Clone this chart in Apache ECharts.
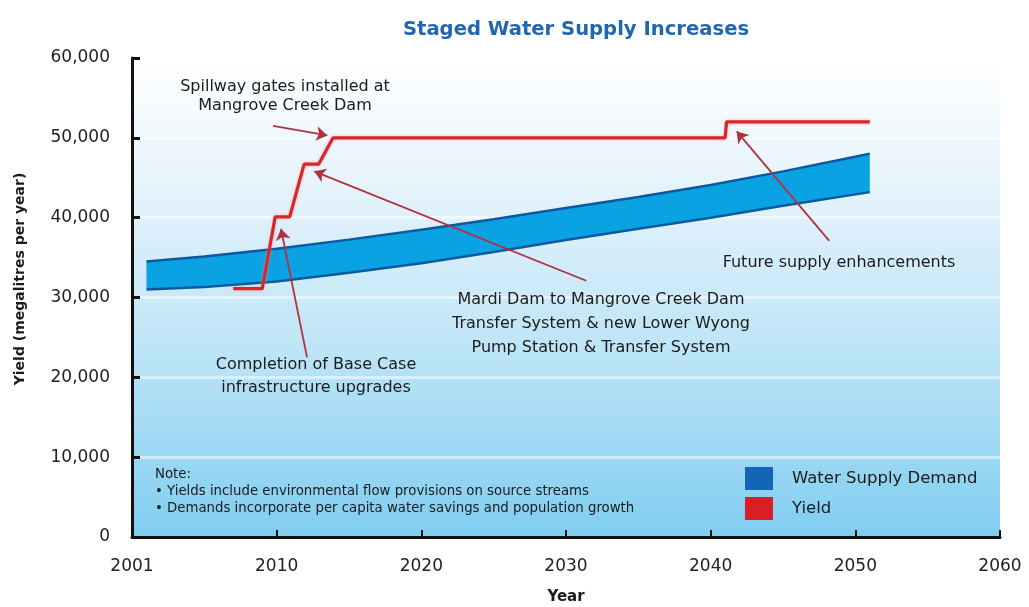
<!DOCTYPE html>
<html>
<head>
<meta charset="utf-8">
<script src="https://cdn.jsdelivr.net/npm/echarts@6/dist/echarts.min.js"></script>
<style>html,body{margin:0;padding:0;background:#fff;}#c{width:1029px;height:607px;}</style>
</head>
<body>
<div id="c"></div>
<script>
// ---- data ----
const xTickLabels = ['2001', '2010', '2020', '2030', '2040', '2050', '2060'];
const demandYears = [2001, 2005, 2010, 2015, 2020, 2025, 2030, 2035, 2040, 2045, 2051];
const demandLow   = [31000, 31300, 32000, 33100, 34300, 35700, 37200, 38600, 40000, 41500, 43200];
const demandHigh  = [34500, 35150, 36100, 37250, 38500, 39800, 41200, 42600, 44100, 45800, 48000];
const yieldYears  = [2007, 2009, 2009.9, 2010.9, 2011.9, 2012.9, 2013.9, 2041, 2041.1, 2051];
const yieldValues = [31100, 31100, 40100, 40100, 46700, 46700, 50000, 50000, 52000, 52000];
// arrows: [fromYear, fromValue, toYear, toValue]
const arrowSpillway   = [2009.75, 51500, 2013.5, 50300];
const arrowMardi      = [2031.4, 32100, 2012.6, 45800];
const arrowCompletion = [2012.1, 22500, 2010.3, 38600];
const arrowFuture     = [2048.2, 37100, 2041.8, 50800];
const noteLines = ['Note:', '\u2022 Yields include environmental flow provisions on source streams', '\u2022 Demands incorporate per capita water savings and population growth'];

const chart = echarts.init(document.getElementById('c'), null, {renderer: 'canvas'});
const FONT = '"DejaVu Sans", "Liberation Sans", sans-serif';
const lowData = demandYears.map((y, i) => [y, demandLow[i]]);
const highData = demandYears.map((y, i) => [y, demandHigh[i]]);
const bandData = demandYears.map((y, i) => [y, demandLow[i], demandHigh[i]]);
const yieldData = yieldYears.map((y, i) => [y, yieldValues[i]]);
const arrows = [arrowSpillway, arrowMardi, arrowCompletion, arrowFuture].map(a => [
  {coord: [a[0], a[1]]}, {coord: [a[2], a[3]]}
]);

function txt(x, y, s, size) {
  return {
    type: 'text', x: x, y: y, z: 20,
    style: {text: s, fill: '#1b1b1b', font: size + 'px ' + FONT, textAlign: 'center', textVerticalAlign: 'middle'}
  };
}
function noteTxt(y, s) {
  return {type: 'text', x: 155, y: y, z: 20,
    style: {text: s, fill: '#1b1b1b', font: '13.3px ' + FONT, textAlign: 'left', textVerticalAlign: 'middle'}};
}

const option = {
  animation: false,
  title: {
    text: 'Staged Water Supply Increases',
    left: 571, top: 15, textAlign: 'center',
    textStyle: {color: '#2166b0', fontFamily: FONT, fontWeight: 'bold', fontSize: 19.6}
  },
  grid: {
    left: 132, right: 29, top: 58, bottom: 70, show: true, borderWidth: 0,
    outerBoundsMode: 'none', containLabel: false,
    backgroundColor: new echarts.graphic.LinearGradient(0, 0, 0, 1, [
      {offset: 0, color: '#ffffff'},
      {offset: 0.3, color: '#e2f2fb'},
      {offset: 0.62, color: '#bce4f7'},
      {offset: 1, color: '#80cdf0'}
    ])
  },
  legend: {
    orient: 'vertical', left: 740, top: 462, itemWidth: 28, itemHeight: 23, itemGap: 7,
    icon: 'rect', selectedMode: false,
    textStyle: {fontFamily: FONT, fontSize: 16.5, color: '#1b1b1b', padding: [0, 0, 0, 14]},
    data: [
      {name: 'Water Supply Demand', itemStyle: {color: '#1465b8'}},
      {name: 'Yield', itemStyle: {color: '#d91e25'}}
    ]
  },
  xAxis: {
    type: 'value', min: 2000, max: 2060, interval: 10,
    name: 'Year', nameLocation: 'middle', nameGap: 53,
    nameTextStyle: {fontFamily: FONT, fontSize: 15, fontWeight: 'bold', color: '#1b1b1b'},
    axisLine: {show: true, lineStyle: {color: '#111', width: 3}},
    axisTick: {show: true, inside: true, length: 7, lineStyle: {color: '#111', width: 2}},
    axisLabel: {
      margin: 21, fontFamily: FONT, fontSize: 17, color: '#222',
      formatter: v => xTickLabels[Math.round((v - 2000) / 10)]
    },
    splitLine: {show: false}
  },
  yAxis: {
    type: 'value', min: 0, max: 60000, interval: 10000,
    axisLine: {show: true, lineStyle: {color: '#111', width: 3}},
    axisTick: {show: true, inside: true, length: 8, lineStyle: {color: '#111', width: 3}},
    axisLabel: {
      margin: 22, fontFamily: FONT, fontSize: 17, color: '#222',
      formatter: v => v.toLocaleString('en-US')
    },
    splitLine: {show: true, lineStyle: {color: 'rgba(255,255,255,0.5)', width: 3}}
  },
  series: [
    {
      name: 'Water Supply Demand', type: 'custom', z: 3, silent: true,
      itemStyle: {color: '#1465b8'},
      data: bandData,
      encode: {x: 0, y: [1, 2]},
      renderItem: function (params, api) {
        if (params.dataIndex !== 0) return null;
        const top = bandData.map(d => api.coord([d[0], d[2]]));
        const bot = bandData.map(d => api.coord([d[0], d[1]])).reverse();
        return {
          type: 'polygon',
          shape: {points: top.concat(bot)},
          style: {fill: '#0ba2e4', stroke: 'none'}
        };
      }
    },
    {
      name: 'demandLow', type: 'line', data: lowData, symbol: 'none', z: 4, silent: true,
      lineStyle: {color: '#0b5a9e', width: 2.5}
    },
    {
      name: 'demandHigh', type: 'line', data: highData, symbol: 'none', z: 4, silent: true,
      lineStyle: {color: '#0b5a9e', width: 2.5}
    },
    {
      name: 'Yield', type: 'line', data: yieldData, symbol: 'none', z: 5,
      itemStyle: {color: '#d91e25'},
      lineStyle: {color: '#d8262d', width: 3.2, shadowColor: 'rgba(255,140,140,0.7)', shadowBlur: 3},
      markLine: {
        silent: true, z: 6, symbol: ['none', 'arrow'], symbolSize: 11,
        label: {show: false},
        lineStyle: {color: '#b0323e', width: 1.8, type: 'solid'},
        emphasis: {disabled: true},
        data: arrows
      }
    }
  ],
  graphic: [
    {type: 'text', x: 20, y: 279, z: 20, rotation: Math.PI / 2,
      style: {text: 'Yield (megalitres per year)', fill: '#1b1b1b', font: 'bold 14px ' + FONT, textAlign: 'center', textVerticalAlign: 'middle'}},
    txt(285, 87, 'Spillway gates installed at', 16),
    txt(285, 106, 'Mangrove Creek Dam', 16),
    txt(601, 300, 'Mardi Dam to Mangrove Creek Dam', 16),
    txt(601, 324, 'Transfer System & new Lower Wyong', 16),
    txt(601, 348, 'Pump Station & Transfer System', 16),
    txt(316, 365, 'Completion of Base Case', 16),
    txt(316, 388, 'infrastructure upgrades', 16),
    txt(839, 263, 'Future supply enhancements', 16),
    noteTxt(475, noteLines[0]),
    noteTxt(492, noteLines[1]),
    noteTxt(509, noteLines[2])
  ]
};
chart.setOption(option);
</script>
</body>
</html>
